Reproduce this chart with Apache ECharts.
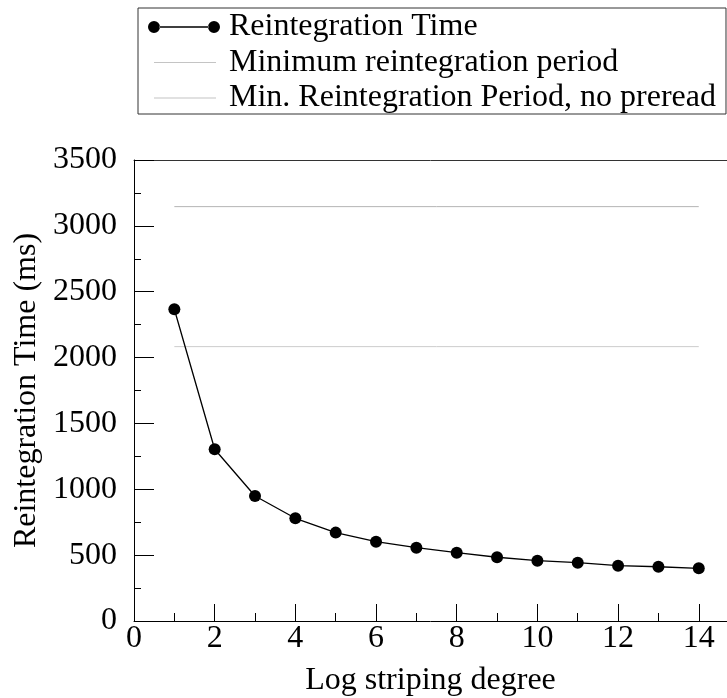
<!DOCTYPE html>
<html>
<head>
<meta charset="utf-8">
<script src="https://cdn.jsdelivr.net/npm/echarts@6/dist/echarts.min.js"></script>
<style>html,body{margin:0;padding:0;background:#fff;}#c{width:727px;height:698px;}</style>
</head>
<body>
<div id="c"></div>
<script>
var degrees = [1,2,3,4,5,6,7,8,9,10,11,12,13,14];
var reintTime = [2367,1304,949,780,671,602,557,519,484,458,443,420,412,400];
var minPeriodX = [1,14];
var minPeriod = [3146,3146];
var minPeriodNoPreread = [2083,2083];
var seriesNames = ['Reintegration Time','Minimum reintegration period','Min. Reintegration Period, no preread'];

var font = 'Liberation Serif';
var fs = 32;
function pairs(xs, ys){ return xs.map(function(x,i){return [x, ys[i]];}); }

var dotLineIcon = 'path://M0,6A6,6 0 1,0 12,6A6,6 0 1,0 0,6ZM60,6A6,6 0 1,0 72,6A6,6 0 1,0 60,6ZM11.5,5.25L60.5,5.25L60.5,6.75L11.5,6.75Z';
var plainLineIcon = 'path://M0,0L0,0ZM72,12L72,12ZM6,5.4L68,5.4L68,6.6L6,6.6Z';

var chart = echarts.init(document.getElementById('c'), null, {renderer:'canvas'});
chart.setOption({
  animation:false,
  backgroundColor:'#fff',
  textStyle:{fontFamily:font},
  legend:{
    orient:'vertical', left:138, top:8,
    padding:[3,10,0,10],
    itemGap:3.5,
    itemWidth:72, itemHeight:12,
    borderColor:'#333', borderWidth:1,
    textStyle:{fontFamily:font, fontSize:fs, color:'#000', padding:[0,0,0,4]},
    data:[
      {name:seriesNames[0], icon:dotLineIcon, itemStyle:{color:'#000', borderColor:'#000', borderWidth:0}},
      {name:seriesNames[1], icon:plainLineIcon, itemStyle:{color:'#c4c4c4', borderWidth:0}},
      {name:seriesNames[2], icon:plainLineIcon, itemStyle:{color:'#c4c4c4', borderWidth:0}}
    ]
  },
  grid:{left:134, top:160, right:0, bottom:77, containLabel:false, outerBoundsMode:'none'},
  xAxis:[{
    type:'value', min:0, max:14.7, interval:2,
    name:'Log striping degree', nameLocation:'middle', nameGap:44,
    nameTextStyle:{fontFamily:font, fontSize:fs, color:'#000'},
    axisLine:{show:true, lineStyle:{color:'#000', width:1}},
    axisTick:{show:true, inside:true, length:17, lineStyle:{color:'#000'}},
    minorTick:{show:true, splitNumber:2, length:8, lineStyle:{color:'#000'}},
    axisLabel:{fontFamily:font, fontSize:fs, color:'#000', margin:2, showMaxLabel:false,
      formatter:function(v){return String(v);}},
    splitLine:{show:false}
  },{
    type:'value', min:0, max:14.7, position:'top',
    axisLine:{show:true, onZero:false, lineStyle:{color:'#333', width:1}},
    axisTick:{show:false}, axisLabel:{show:false}, splitLine:{show:false}
  }],
  yAxis:{
    type:'value', min:0, max:3500, interval:500,
    name:'Reintegration Time (ms)', nameLocation:'middle', nameGap:89,
    nameTextStyle:{fontFamily:font, fontSize:fs, color:'#000'},
    axisLine:{show:true, lineStyle:{color:'#000', width:1}},
    axisTick:{show:true, inside:true, length:20, lineStyle:{color:'#000'}},
    minorTick:{show:true, splitNumber:2, length:7, lineStyle:{color:'#000'}},
    axisLabel:{fontFamily:font, fontSize:fs, color:'#000', margin:17,
      formatter:function(v){return String(v);}},
    splitLine:{show:false}
  },
  series:[
    {name:seriesNames[1], type:'line', data:pairs(minPeriodX, minPeriod),
     symbol:'none', lineStyle:{color:'#b4b4b4', width:1}, itemStyle:{color:'#b4b4b4'}},
    {name:seriesNames[2], type:'line', data:pairs(minPeriodX, minPeriodNoPreread),
     symbol:'none', lineStyle:{color:'#cccccc', width:1}, itemStyle:{color:'#cccccc'}},
    {name:seriesNames[0], type:'line', data:pairs(degrees, reintTime),
     symbol:'circle', symbolSize:12, showSymbol:true,
     lineStyle:{color:'#000', width:1.3}, itemStyle:{color:'#000'}}
  ]
});
</script>
</body>
</html>
